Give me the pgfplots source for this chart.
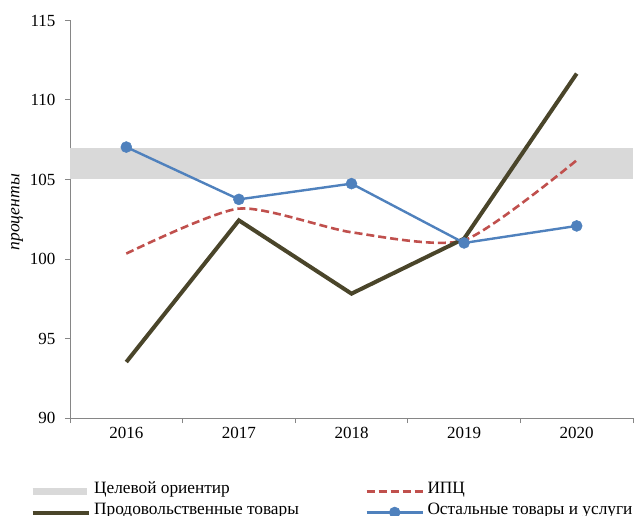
\documentclass[border=0pt]{standalone}
\usepackage{pgfplots}
\pgfplotsset{compat=1.18}
\usepackage{fontspec}
\setmainfont{Liberation Serif}
\definecolor{bandgray}{HTML}{D9D9D9}
\definecolor{axgray}{HTML}{868686}
\definecolor{cblue}{HTML}{4F81BD}
\definecolor{cred}{HTML}{C0504D}
\definecolor{cdark}{HTML}{4A452A}
\begin{document}
\begin{tikzpicture}
\path[use as bounding box] (-70bp,-98bp) rectangle (564bp,418bp);
\clip (-70bp,-98bp) rectangle (564bp,418bp);
\begin{axis}[
  at={(0,0)}, anchor=south west,
  scale only axis, width=563bp, height=397.5bp,
  xmin=-0.5, xmax=4.5, ymin=90, ymax=115,
  axis x line=bottom, axis y line=left,
  axis line style={-, axgray, line width=1pt},
  xtick={-0.5,0.5,1.5,2.5,3.5,4.5},
  xticklabels={},
  extra x ticks={0,1,2,3,4},
  extra x tick labels={2016,2017,2018,2019,2020},
  extra x tick style={major tick length=0pt},
  ytick={90,95,100,105,110,115},
  tick align=outside,
  tick style={axgray, line width=1pt},
  major tick length=5bp,
  xticklabel style={yshift=-6bp},
  yticklabel style={xshift=-6bp},
  ticklabel style={font=\fontsize{17bp}{19bp}\selectfont},
  /pgf/number format/assume math mode=true,
  ylabel={\textit{проценты}},
  ylabel style={font=\fontsize{17.5bp}{19bp}\selectfont, at={(rel axis cs:0,0.5)}, anchor=center, yshift=53bp, xshift=7bp},
  legend columns=2,
  legend cell align=left,
  legend style={draw=none, fill=none, at={(rel axis cs:-0.0782,-0.153)}, anchor=north west,
    font=\fontsize{17.3bp}{19bp}\selectfont,
    nodes={inner ysep=0pt, inner xsep=3.5bp, text height=12bp, text depth=9bp},
    /tikz/every even column/.append style={column sep=63bp}},
  legend image code/.code={\draw[mark repeat=2,mark phase=2] plot coordinates {(0bp,0bp) (28bp,0bp) (56bp,0bp)};},
  clip=false,
]
\addplot[draw=none, fill=bandgray, forget plot] coordinates {(-0.5,105) (4.5,105) (4.5,107) (-0.5,107)} --cycle;
\addlegendimage{legend image code/.code={\draw[bandgray, line width=7bp] (0bp,0bp) -- (54bp,0bp);}}
\addlegendentry{Целевой ориентир}
\addplot[cred, line width=2.6bp, dash pattern=on 8bp off 4bp, smooth, tension=0.4] coordinates {
(0,100.34) (1,103.17) (2,101.68) (3,101.18) (4,106.21)};
\addlegendentry{ИПЦ}
\addplot[cdark, line width=4bp] coordinates {
(0,93.52) (1,102.43) (2,97.82) (3,101.28) (4,111.66)};
\addlegendentry{Продовольственные товары}
\addplot[cblue, line width=2.4bp, mark=*, mark size=5.5bp, mark options={fill=cblue, draw=cblue, line width=0.5bp}] coordinates {
(0,107.04) (1,103.75) (2,104.74) (3,101.01) (4,102.08)};
\addlegendentry{Остальные товары и услуги}
\end{axis}
\end{tikzpicture}
\end{document}
